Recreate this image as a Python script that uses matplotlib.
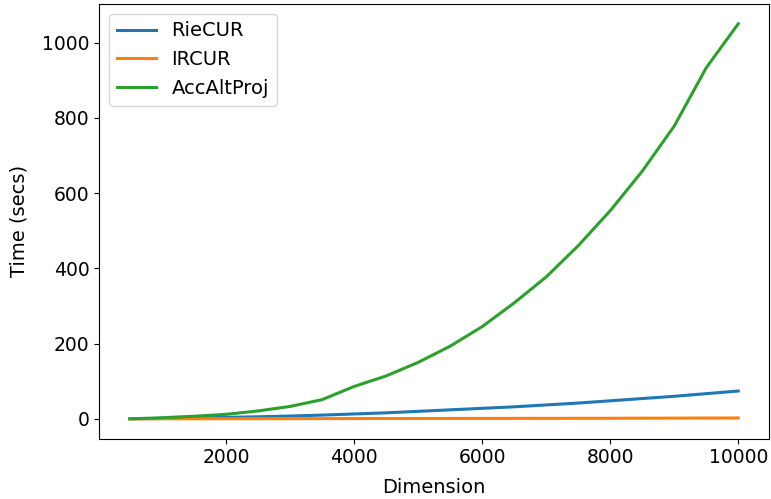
import matplotlib
matplotlib.use('Agg')
import matplotlib.pyplot as plt

# Données
dimension = [500, 1000, 1500, 2000, 2500, 3000, 3500, 4000, 4500, 5000,
             5500, 6000, 6500, 7000, 7500, 8000, 8500, 9000, 9500, 10000]
riecur = [0.3, 1, 2, 4, 5.5, 7.5, 10, 13, 16, 20,
          24, 28, 32, 37, 42, 48, 54, 60, 67, 74]
ircur = [0.1, 0.2, 0.3, 0.4, 0.5, 0.6, 0.7, 0.8, 0.9, 1.0,
         1.1, 1.2, 1.3, 1.4, 1.5, 1.6, 1.8, 2.0, 2.2, 2.4]
accaltproj = [0.0, 3, 7, 12, 21, 33, 51, 86, 114, 150,
              193, 245, 308, 377, 460, 553, 658, 778, 933, 1050]

plt.rcParams['font.size'] = 14

fig = plt.figure(figsize=(7.71, 4.99), dpi=100)
ax = fig.add_axes([0.129, 0.121, 0.868, 0.871])
ax.plot(dimension, riecur, label='RieCUR', linewidth=2.2)
ax.plot(dimension, ircur, label='IRCUR', linewidth=2.2)
ax.plot(dimension, accaltproj, label='AccAltProj', linewidth=2.2)
ax.tick_params(labelsize=13.5)
ax.set_xlabel('Dimension', labelpad=8)
ax.set_ylabel('Time (secs)', labelpad=10)
ax.legend(loc='upper left')

fig.savefig('out.png', dpi=100)
